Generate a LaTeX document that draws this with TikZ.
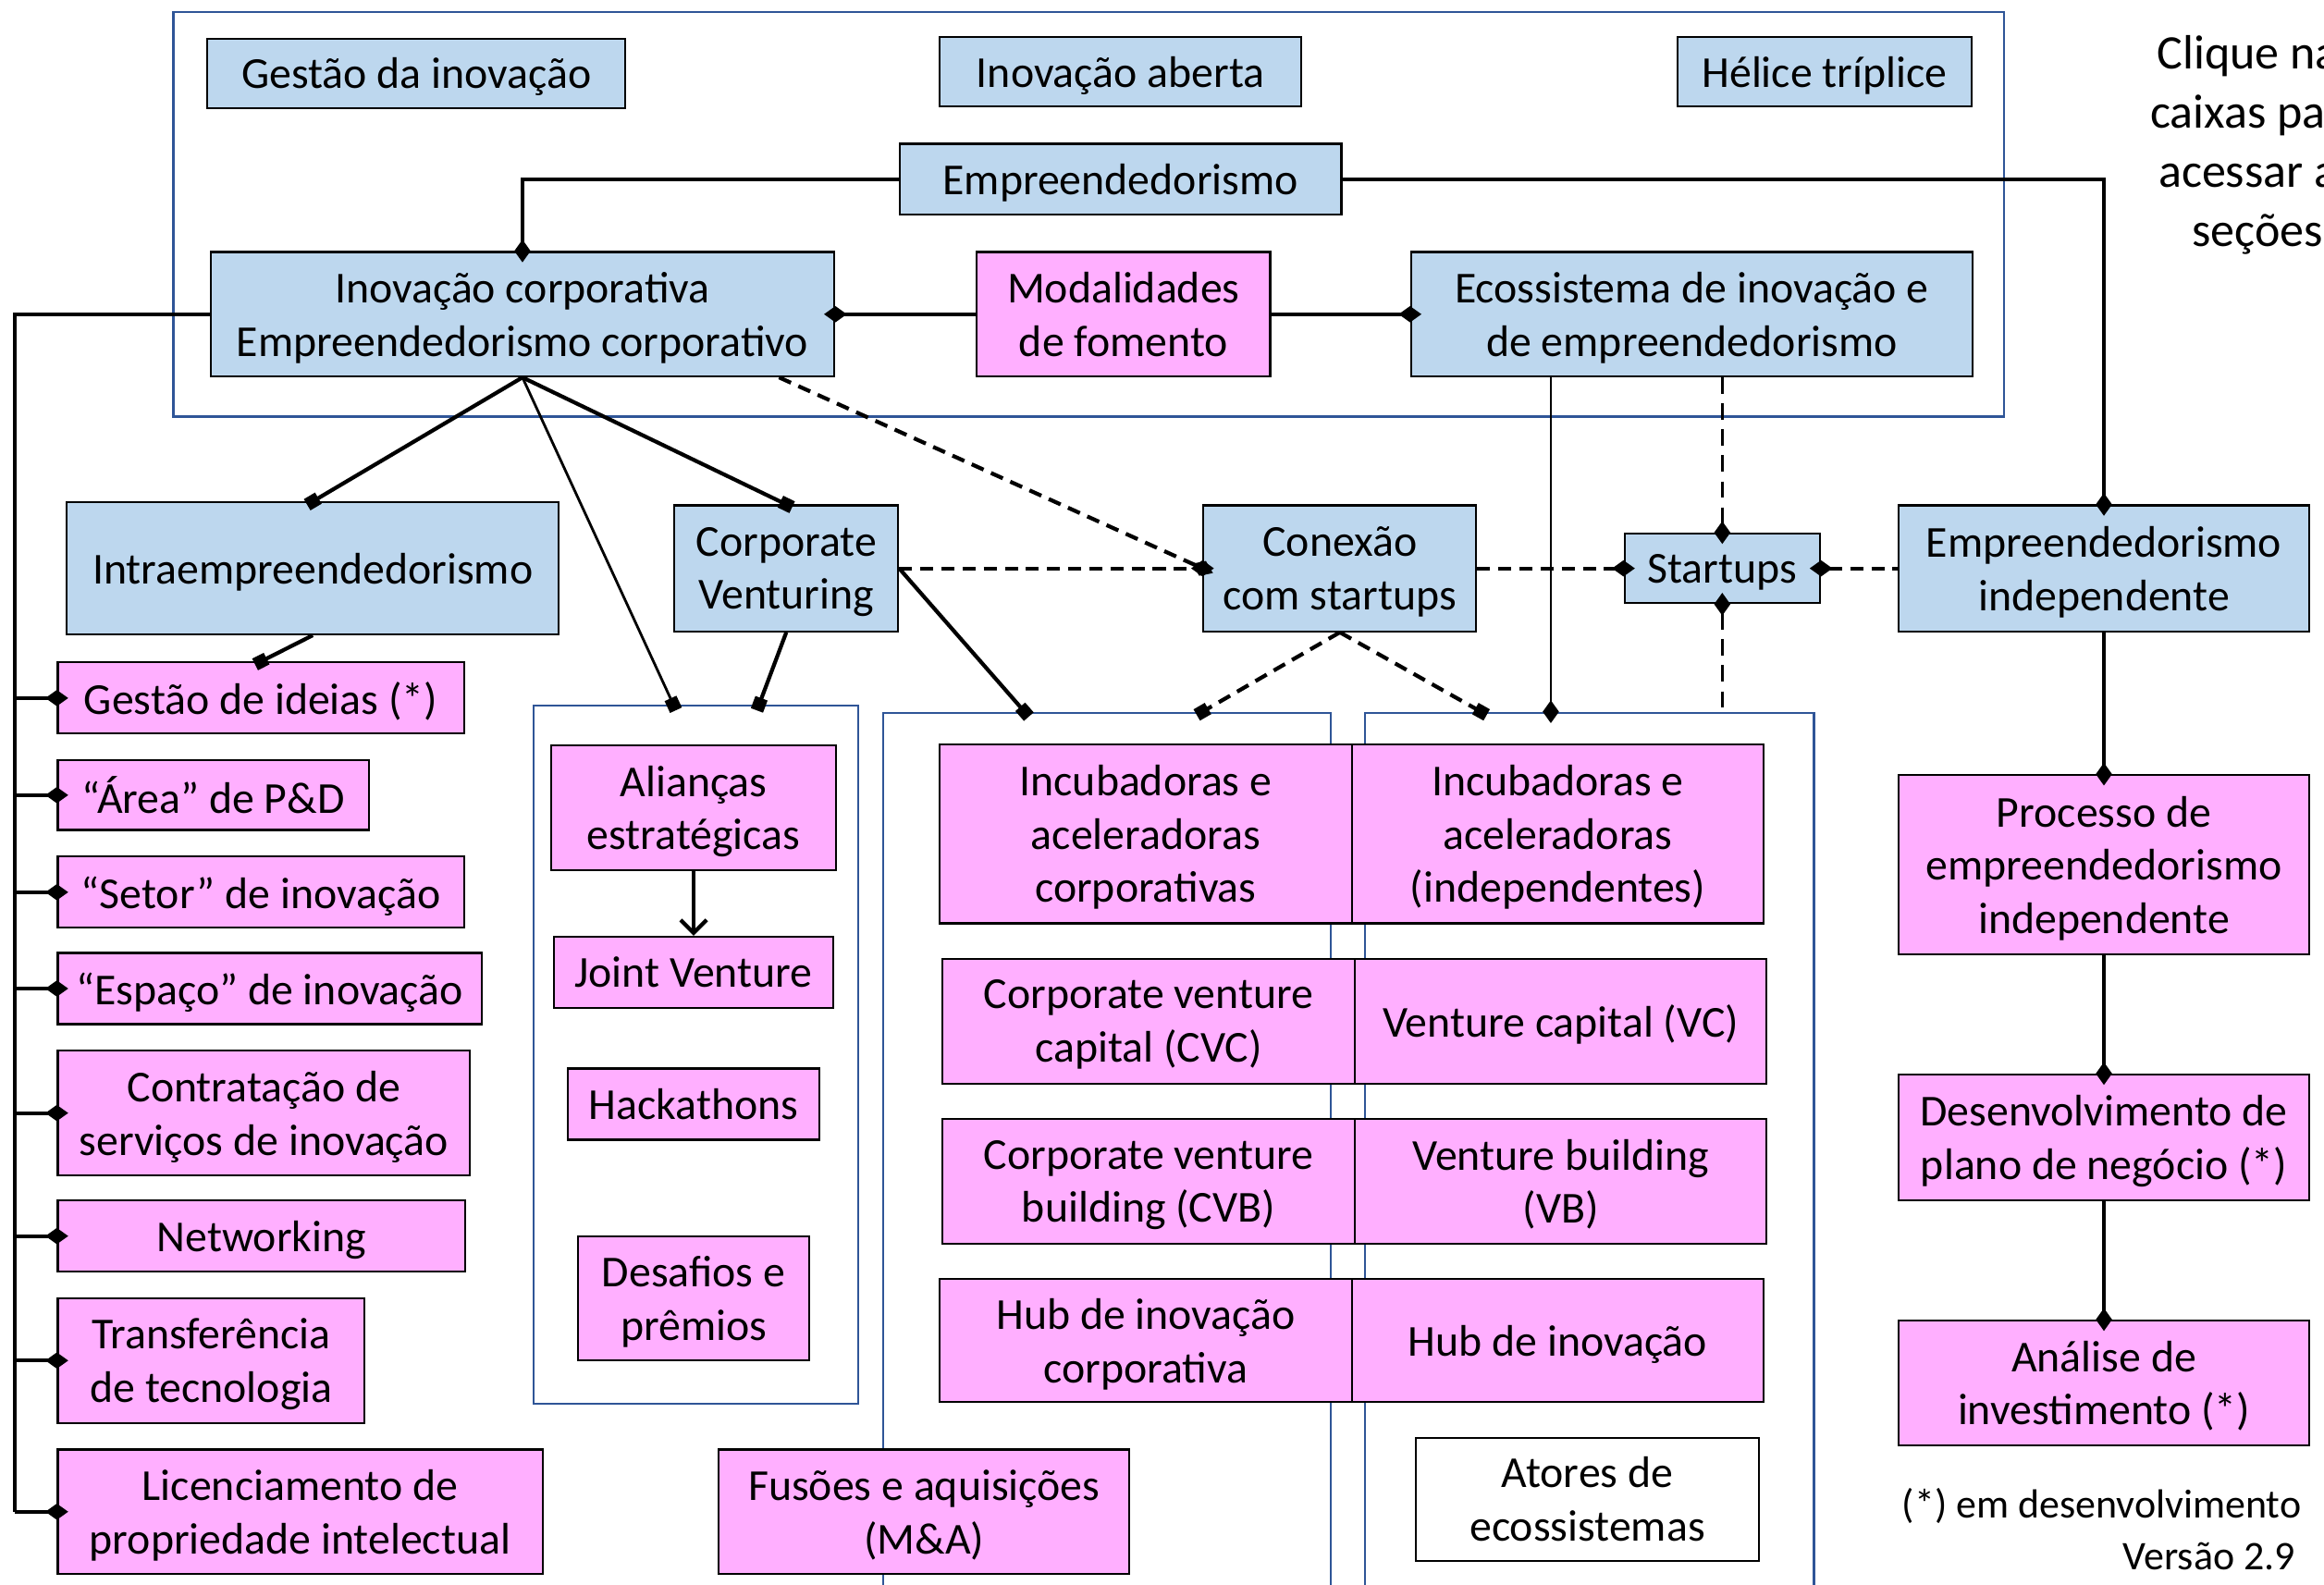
\documentclass[tikz,border=0pt]{standalone}
\usepackage{fontspec}
\setmainfont{Carlito}
\usetikzlibrary{arrows.meta,calc}
\definecolor{caixaazul}{RGB}{189,215,238}
\definecolor{caixarosa}{RGB}{255,175,255}
\definecolor{azulmoldura}{RGB}{47,85,151}
\tikzset{
	caixa/.style={draw=black, line width=0.6pt, align=center, inner sep=1pt, font=\fontsize{13.6}{16.4}\selectfont, text depth=0pt},
	azul/.style={caixa, fill=caixaazul},
	rosa/.style={caixa, fill=caixarosa},
	tam/.style 2 args={minimum width=#1*0.16027mm, minimum height=#2*0.16027mm},
	moldura/.style={draw=azulmoldura, line width=0.7pt},
	liga/.style={line width=1.2pt},
	ligafina/.style={line width=0.8pt},
	tracejada/.style={line width=1.2pt, dash pattern=on 4pt off 2.5pt},
	tracejadafina/.style={line width=0.8pt, dash pattern=on 5pt off 3pt},
	losango/.style={-{Diamond[length=7pt,width=5pt]}, shorten >=-3.5pt},
	losangoinicio/.style={{Diamond[length=7pt,width=5pt]}-, shorten <=-3.5pt},
	quadrado/.style={-{Square[length=4pt,width=4pt]}, shorten >=-2pt},
}
\begin{document}
\begin{tikzpicture}[x=0.16027mm, y=-0.16027mm]
	\useasboundingbox (0,0) rectangle (1568,1069);
	\clip (0,0) rectangle (1568,1069);
	
	\draw[moldura] (117,8) rectangle (1352,281);
	\node[moldura, tam={219}{471}] (grupoA) at (469.5,711.5) {};
	\node[moldura, tam={302}{619}] (grupoB) at (747,790.5) {};
	\node[moldura, tam={303}{619}] (grupoC) at (1072.5,790.5) {};
	
	\node[azul, tam={282}{47}] (gestao) at (281,49.5) {Gestão da inovação};
	\node[azul, tam={244}{47}] (aberta) at (756,48.5) {Inovação aberta};
	\node[azul, tam={198}{47}] (helice) at (1231,48.5) {Hélice tríplice};
	\node[azul, tam={298}{48}] (empre) at (756,121) {Empreendedorismo};
	\node[azul, tam={421}{84}] (corp) at (352.5,212) {Inovação corporativa\\Empreendedorismo corporativo};
	\node[rosa, tam={198}{84}] (modal) at (758,212) {Modalidades\\de fomento};
	\node[azul, tam={379}{84}] (ecos) at (1141.5,212) {Ecossistema de inovação e\\de empreendedorismo};
	
	\node[azul, tam={332}{89}] (intra) at (211,383.5) {Intraempreendedorismo};
	\node[azul, tam={151}{85}] (cv) at (530.5,383.5) {Corporate\\Venturing};
	\node[azul, tam={184}{85}] (conexao) at (904,383.5) {Conexão\\com startups};
	\node[azul, tam={132}{47}] (startups) at (1162,383.5) {Startups};
	\node[azul, tam={277}{85}] (indep) at (1419.5,383.5) {Empreendedorismo\\independente};
	
	\node[rosa, tam={274}{48}] (ideias) at (176,471) {Gestão de ideias (*)};
	\node[rosa, tam={210}{47}] (area) at (144,536.5) {“Área” de P\&D};
	\node[rosa, tam={274}{48}] (setor) at (176,602) {“Setor” de inovação};
	\node[rosa, tam={286}{48}] (espaco) at (182,667) {“Espaço” de inovação};
	\node[rosa, tam={278}{84}] (servicos) at (178,751) {Contratação de\\serviços de inovação};
	\node[rosa, tam={275}{48}] (network) at (176.5,834) {Networking};
	\node[rosa, tam={207}{84}] (transf) at (142.5,918) {Transferência\\de tecnologia};
	\node[rosa, tam={327}{84}] (licenc) at (202.5,1020) {Licenciamento de\\propriedade intelectual};
	
	\node[rosa, tam={192}{84}] (aliancas) at (468,545) {Alianças\\estratégicas};
	\node[rosa, tam={188}{48}] (joint) at (468,656) {Joint Venture};
	\node[rosa, tam={170}{48}] (hack) at (468,745) {Hackathons};
	\node[rosa, tam={156}{84}] (desafios) at (468,876) {Desafios e\\prêmios};
	\node[rosa, tam={277}{84}] (fusoes) at (623.5,1020) {Fusões e aquisições\\(M\&A)};
	
	\node[rosa, tam={278}{121}] (incubcorp) at (773,562.5) {Incubadoras e\\aceleradoras\\corporativas};
	\node[rosa, tam={278}{121}] (incubind) at (1051,562.5) {Incubadoras e\\aceleradoras\\(independentes)};
	\node[rosa, tam={278}{84}] (cvc) at (775,689) {Corporate venture\\capital (CVC)};
	\node[rosa, tam={278}{84}] (vc) at (1053,689) {Venture capital (VC)};
	\node[rosa, tam={278}{84}] (cvb) at (775,797) {Corporate venture\\building (CVB)};
	\node[rosa, tam={278}{84}] (vb) at (1053,797) {Venture building\\(VB)};
	\node[rosa, tam={278}{83}] (hubcorp) at (773,904.5) {Hub de inovação\\corporativa};
	\node[rosa, tam={278}{83}] (hub) at (1051,904.5) {Hub de inovação};
	\node[caixa, fill=white, tam={232}{83}] (atores) at (1071,1011.5) {Atores de\\ecossistemas};
	
	\node[rosa, tam={277}{121}] (processo) at (1419.5,583.5) {Processo de\\empreendedorismo\\independente};
	\node[rosa, tam={277}{85}] (plano) at (1419.5,767.5) {Desenvolvimento de\\plano de negócio (*)};
	\node[rosa, tam={277}{84}] (analise) at (1419.5,933) {Análise de\\investimento (*)};
	
	\node[align=center, font=\fontsize{14.8}{18.2}\selectfont] (clique) at (1523,98) {Clique nas\\caixas para\\acessar as\\seções};
	\node[anchor=east, inner sep=0pt, font=\fontsize{12.5}{15}\selectfont] (nota) at (1553,1016) {(*) em desenvolvimento};
	\node[anchor=east, inner sep=0pt, font=\fontsize{12.5}{15}\selectfont] (versao) at (1549,1050) {Versão 2.9};
	
	\coordinate (espinha) at (10,1020);
	\coordinate (ecosbase) at ($(ecos.south west)+(95,0)$);
	
	\draw[liga, losango] (empre.west) -| (corp.north);
	\draw[liga, losango] (empre.east) -| (indep.north);
	\draw[liga, losango] (modal.west) -- (corp.east);
	\draw[liga, losango] (modal.east) -- (ecos.west);
	\draw[liga] (corp.west) -| (espinha);
	\foreach \ramo in {ideias,area,setor,espaco,servicos,network,transf,licenc}
		\draw[liga, losango] (espinha |- \ramo.west) -- (\ramo.west);
	
	\draw[liga, quadrado] (corp.south) -- (intra.north);
	\draw[liga, quadrado] (corp.south) -- (cv.north);
	\draw[ligafina, quadrado] (corp.south) -- ($(grupoA.north west)+(95,0)$);
	\draw[tracejada, losango] ($(corp.south east)+(-38,0)$) -- (conexao.west);
	\draw[tracejada, losango] (cv.east) -- (conexao.west);
	\draw[liga, quadrado] (cv.south) -- ($(grupoA.north west)+(153,0)$);
	\draw[liga, quadrado] (cv.east) -- ($(grupoB.north west)+(96,0)$);
	\draw[tracejada, quadrado] (conexao.south) -- ($(grupoB.north west)+(216,0)$);
	\draw[tracejada, quadrado] (conexao.south) -- ($(grupoC.north west)+(79,0)$);
	\draw[tracejada, losango] (conexao.east) -- (startups.west);
	\draw[tracejada, losangoinicio] (startups.east) -- (indep.west);
	\draw[tracejadafina, losango] (ecos.south -| startups) -- (startups.north);
	\draw[tracejadafina, losangoinicio] (startups.south) -- (startups.south |- grupoC.north);
	\draw[ligafina, losango] (ecosbase) -- (ecosbase |- grupoC.north);
	\draw[liga, quadrado] (intra.south) -- (ideias.north);
	\draw[liga, -{Straight Barb[length=4pt,width=8pt]}] (aliancas.south) -- (joint.north);
	\draw[liga, losango] (indep.south) -- (processo.north);
	\draw[liga, losango] (processo.south) -- (plano.north);
	\draw[liga, losango] (plano.south) -- (analise.north);
\end{tikzpicture}
\end{document}
